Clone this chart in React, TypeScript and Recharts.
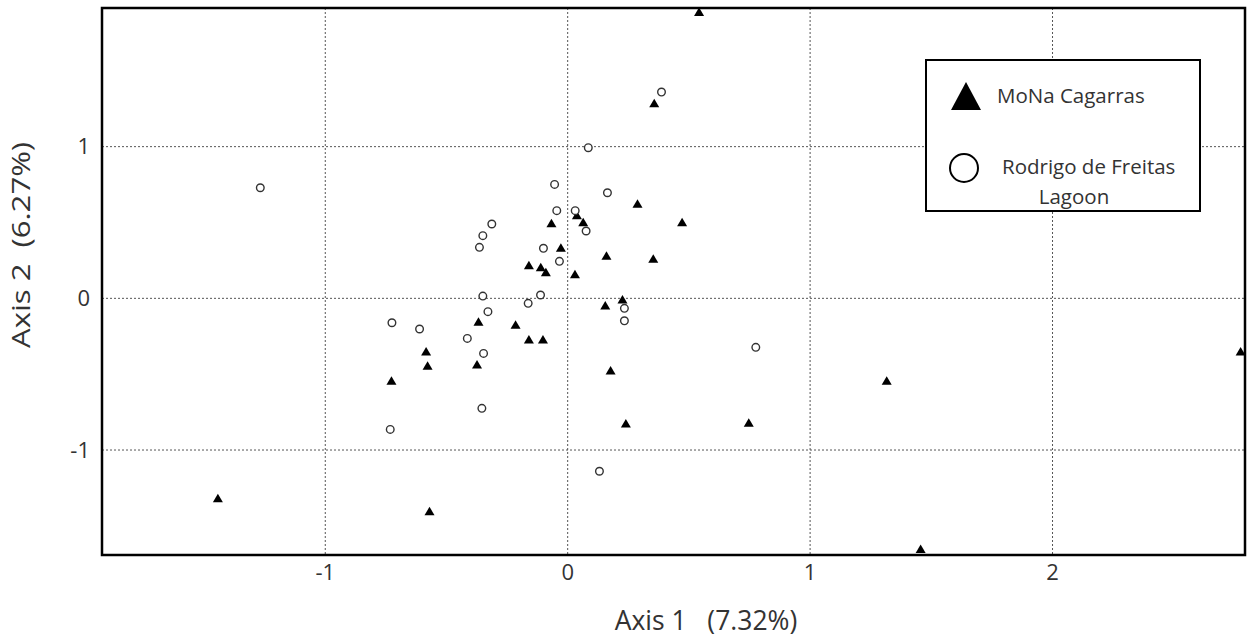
import React from "react";
import { CartesianGrid, ReferenceArea, Scatter, ScatterChart, XAxis, YAxis } from "recharts";

// PCoA scores
const monaAxis1 = [
  0.542, 0.357, 0.288, 0.038, -0.067, 0.064, 0.472, -0.028, 0.16, 0.353, -0.16, -0.111, -0.09, 0.03, 0.226, 0.155,
  -0.215, -0.16, -0.102, 0.177, 1.316, 0.24, 0.747, 1.456, -0.368, -0.584, -0.578, -0.374, -0.727, -1.443, -0.57, 2.776,
];
const monaAxis2 = [
  1.885, 1.283, 0.62, 0.545, 0.492, 0.498, 0.498, 0.33, 0.277, 0.257, 0.215, 0.202, 0.169, 0.156, -0.011, -0.051,
  -0.178, -0.275, -0.275, -0.479, -0.547, -0.829, -0.824, -1.655, -0.158, -0.354, -0.448, -0.44, -0.547, -1.321, -1.407, -0.354,
];
const lagoonAxis1 = [
  -1.268, -0.313, -0.35, -0.364, -0.35, 0.387, 0.085, -0.054, 0.164, -0.045, 0.031, 0.076, -0.1, -0.034, -0.112, -0.163,
  0.234, 0.234, 0.776, 0.131, -0.329, -0.725, -0.611, -0.414, -0.347, -0.354, -0.732,
];
const lagoonAxis2 = [
  0.729, 0.49, 0.413, 0.336, 0.015, 1.36, 0.993, 0.751, 0.696, 0.578, 0.578, 0.444, 0.33, 0.244, 0.022, -0.033,
  -0.066, -0.148, -0.323, -1.14, -0.088, -0.161, -0.202, -0.264, -0.363, -0.725, -0.864,
];
const xTicks = [-1, 0, 1, 2];
const yTicks = [-1, 0, 1];
const xDomain: [number, number] = [-1.921, 2.794];
const yDomain: [number, number] = [-1.692, 1.914];

const mona = monaAxis1.map((x, i) => ({ x, y: monaAxis2[i] }));
const lagoon = lagoonAxis1.map((x, i) => ({ x, y: lagoonAxis2[i] }));

const FONT = "'Open Sans', sans-serif";
const INK = "#333";

const Triangle = (props: any) => {
  const { cx, cy } = props;
  return <polygon points={`${cx},${cy - 5} ${cx + 5},${cy + 3.5} ${cx - 5},${cy + 3.5}`} fill="#000" />;
};

const Ring = (props: any) => {
  const { cx, cy } = props;
  return <circle cx={cx} cy={cy} r={3.8} fill="#fff" stroke="#333" strokeWidth={1.4} />;
};

const XTitle = () => (
  <text x={706} y={630} textAnchor="middle" fontFamily={FONT} fontSize={26.5} fill={INK} style={{ whiteSpace: "pre" }}>
    {"Axis 1   (7.32%)"}
  </text>
);

const YTitle = () => (
  <text
    x={23}
    y={245}
    transform="rotate(-90 23 245)"
    textAnchor="middle"
    dominantBaseline="middle"
    fontFamily={FONT}
    fontSize={25}
    textLength={206}
    lengthAdjust="spacingAndGlyphs"
    fill={INK}
    style={{ whiteSpace: "pre" }}
  >
    {"Axis 2  (6.27%)"}
  </text>
);

function LegendBox() {
  return (
    <div style={{ position: "absolute", left: 925, top: 59, width: 276, height: 153 }}>
      <svg width={276} height={153} style={{ fontFamily: FONT }}>
        <rect x={1} y={1} width={274} height={151} fill="#fff" stroke="#000" strokeWidth={2} />
        <polygon points="41,23 56,51 26,51" fill="#000" />
        <text x={72} y={39} dominantBaseline="middle" fontSize={20.5} fill={INK}>
          MoNa Cagarras
        </text>
        <circle cx={39} cy={109} r={14} fill="#fff" stroke="#000" strokeWidth={2} />
        <text x={77} y={110} dominantBaseline="middle" fontSize={20.5} fill={INK}>
          Rodrigo de Freitas
        </text>
        <text x={149} y={140} textAnchor="middle" dominantBaseline="middle" fontSize={20.5} fill={INK}>
          Lagoon
        </text>
      </svg>
    </div>
  );
}

export default function App() {
  return (
    <div style={{ position: "absolute", left: 0, top: 0, width: 1247, height: 637, background: "#fff" }}>
      <ScatterChart width={1247} height={637} margin={{ top: 8, right: 2, bottom: 0, left: 0 }}>
        <CartesianGrid stroke="#555" strokeDasharray="2 2" strokeWidth={1} />
        <XAxis
          type="number"
          dataKey="x"
          domain={xDomain}
          ticks={xTicks}
          allowDataOverflow
          height={82}
          axisLine={false}
          tickLine={false}
          tickMargin={3}
          tick={{ fontSize: 22, fill: INK, fontFamily: FONT }}
          label={{ content: XTitle }}
        />
        <YAxis
          type="number"
          dataKey="y"
          domain={yDomain}
          ticks={yTicks}
          allowDataOverflow
          width={102}
          axisLine={false}
          tickLine={false}
          tickMargin={6}
          tick={{ fontSize: 22, fill: INK, fontFamily: FONT }}
          label={{ content: YTitle }}
        />
        <ReferenceArea
          x1={xDomain[0]}
          x2={xDomain[1]}
          y1={yDomain[0]}
          y2={yDomain[1]}
          fill="none"
          stroke="#000"
          strokeWidth={2.5}
          fillOpacity={0}
        />
        <Scatter name="MoNa Cagarras" data={mona} shape={Triangle} isAnimationActive={false} />
        <Scatter name="Rodrigo de Freitas Lagoon" data={lagoon} shape={Ring} isAnimationActive={false} />
      </ScatterChart>
      <LegendBox />
    </div>
  );
}
